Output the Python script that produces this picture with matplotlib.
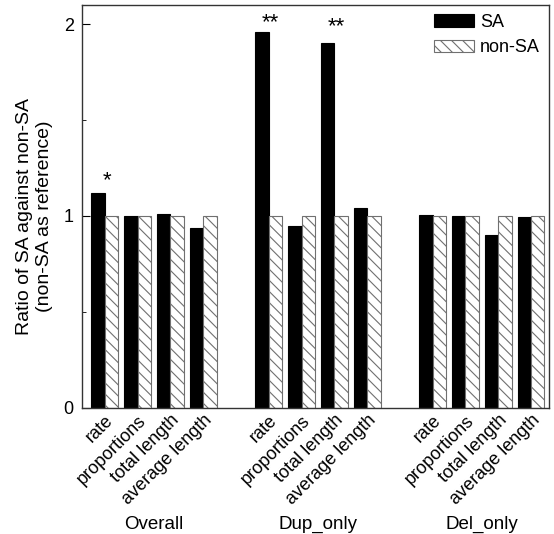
import numpy as np
import matplotlib
matplotlib.use('Agg')
import matplotlib.pyplot as plt
from matplotlib.ticker import MultipleLocator

plt.rcParams['font.family'] = ['Liberation Sans', 'DejaVu Sans']
plt.rcParams['hatch.linewidth'] = 0.8

groups = ['Overall', 'Dup_only', 'Del_only']
metrics = ['rate', 'proportions', 'total length', 'average length']

sa_values = [
    [1.12, 1.00, 1.01, 0.935],   # Overall
    [1.96, 0.95, 1.90, 1.04],    # Dup_only
    [1.007, 1.00, 0.90, 0.995],  # Del_only
]
non_sa_values = [
    [1.0, 1.0, 1.0, 1.0],
    [1.0, 1.0, 1.0, 1.0],
    [1.0, 1.0, 1.0, 1.0],
]
# significance marks on SA bars: (group, metric, label)
marks = [(0, 0, '*'), (1, 0, '**'), (1, 2, '**')]
mark_pad = [1, -1, 4.5]  # points above the bar top

width = 0.41
pos = np.array([g * 5 + m for g in range(len(groups)) for m in range(len(metrics))])
sa = np.array(sa_values).ravel()
nsa = np.array(non_sa_values).ravel()

fig = plt.figure(figsize=(5.54, 5.34), dpi=100)
ax = fig.add_axes([0.148, 0.2365, 0.843, 0.754])

ax.bar(pos - width / 2, sa, width, color='black', edgecolor='black',
       linewidth=0.8, label='SA')
ax.bar(pos + width / 2, nsa, width, color='white', edgecolor='#707070',
       hatch='\\\\\\', linewidth=0.8, label='non-SA')

for (g, m, txt), pad in zip(marks, mark_pad):
    i = g * len(metrics) + m
    ax.annotate(txt, (pos[i] + 0.05, sa[i]), xytext=(0, pad),
                textcoords='offset points', ha='center', va='bottom',
                fontsize=16)

ax.set_xlim(-0.7, 13.55)
ax.set_ylim(0, 2.1)
ax.yaxis.set_major_locator(MultipleLocator(1))
ax.yaxis.set_minor_locator(MultipleLocator(0.5))
ax.tick_params(axis='y', which='both', direction='in', labelsize=13, pad=6)
ax.tick_params(axis='y', which='major', length=6)
ax.tick_params(axis='y', which='minor', length=3)

ax.set_xticks(pos)
ax.set_xticklabels(metrics * len(groups), rotation=45, ha='right',
                   rotation_mode='anchor', fontsize=13)
ax.tick_params(axis='x', length=0, pad=3)

for g, name in enumerate(groups):
    ax.text(g * 5 + 1.5, -0.302, name, transform=ax.get_xaxis_transform(),
            ha='center', va='baseline', fontsize=13.5)

ax.set_ylabel('Ratio of SA against non-SA\n(non-SA as reference)', fontsize=14)
ax.yaxis.set_label_coords(-0.062, 0.475)

ax.legend(loc='upper right', frameon=False, fontsize=13, handlelength=2.2,
          handleheight=0.7, handletextpad=0.35, labelspacing=0.45,
          borderaxespad=0.3, borderpad=0.2)

for s in ax.spines.values():
    s.set_linewidth(1.0)
    s.set_color('#333333')

fig.savefig('out.png', dpi=100)
